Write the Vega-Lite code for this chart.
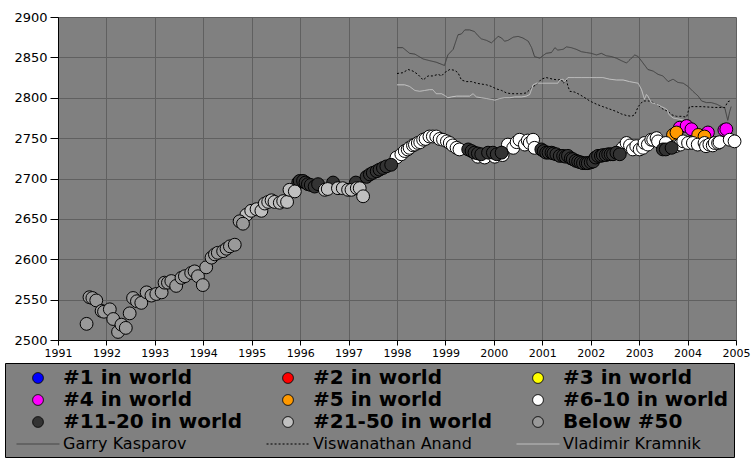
{
  "$schema": "https://vega.github.io/schema/vega-lite/v6.json",
  "width": 678,
  "height": 323,
  "autosize": {"type": "none"},
  "padding": {"left": 58, "top": 17, "right": 20, "bottom": 124},
  "background": "white",
  "config": {
    "view": {"fill": "#808080", "stroke": null},
    "axis": {"gridColor": "#606060", "gridWidth": 1, "domainColor": "#000000", "tickColor": "#000000", "labelColor": "#000000", "labelFont": "DejaVu Sans", "title": null},
    "legend": {
      "orient": "none", "legendX": -53, "legendY": 346,
      "columns": 3, "columnPadding": 22, "rowPadding": 2, "padding": 5, "gridAlign": "all",
      "titleOrient": "left", "titlePadding": 7, "titleFontSize": 1, "titleColor": "#808080",
      "fillColor": "#808080", "strokeColor": "#000000",
      "labelFont": "DejaVu Sans", "labelFontSize": 20, "labelFontWeight": "bold", "labelColor": "#000000", "labelLimit": 400,
      "symbolSize": 115, "symbolStrokeWidth": 1, "symbolOffset": 11, "labelOffset": 15
    }
  },
  "datasets": {
    "lines": [
      {"t": 1998.00, "elo": 2862, "cat": "Garry Kasparov"}, {"t": 1998.12, "elo": 2862, "cat": "Garry Kasparov"}, {"t": 1998.26, "elo": 2855, "cat": "Garry Kasparov"}, {"t": 1998.37, "elo": 2854, "cat": "Garry Kasparov"}, {"t": 1998.54, "elo": 2848, "cat": "Garry Kasparov"}, {"t": 1998.67, "elo": 2846, "cat": "Garry Kasparov"}, {"t": 1998.81, "elo": 2844, "cat": "Garry Kasparov"}, {"t": 1998.98, "elo": 2840, "cat": "Garry Kasparov"}, {"t": 1999.05, "elo": 2853, "cat": "Garry Kasparov"}, {"t": 1999.16, "elo": 2860, "cat": "Garry Kasparov"}, {"t": 1999.26, "elo": 2878, "cat": "Garry Kasparov"}, {"t": 1999.33, "elo": 2879, "cat": "Garry Kasparov"}, {"t": 1999.40, "elo": 2884, "cat": "Garry Kasparov"}, {"t": 1999.50, "elo": 2884, "cat": "Garry Kasparov"}, {"t": 1999.60, "elo": 2882, "cat": "Garry Kasparov"}, {"t": 1999.67, "elo": 2877, "cat": "Garry Kasparov"}, {"t": 1999.74, "elo": 2873, "cat": "Garry Kasparov"}, {"t": 1999.85, "elo": 2871, "cat": "Garry Kasparov"}, {"t": 1999.95, "elo": 2868, "cat": "Garry Kasparov"}, {"t": 2000.02, "elo": 2872, "cat": "Garry Kasparov"}, {"t": 2000.09, "elo": 2876, "cat": "Garry Kasparov"}, {"t": 2000.16, "elo": 2874, "cat": "Garry Kasparov"}, {"t": 2000.22, "elo": 2870, "cat": "Garry Kasparov"}, {"t": 2000.29, "elo": 2871, "cat": "Garry Kasparov"}, {"t": 2000.40, "elo": 2875, "cat": "Garry Kasparov"}, {"t": 2000.50, "elo": 2876, "cat": "Garry Kasparov"}, {"t": 2000.60, "elo": 2874, "cat": "Garry Kasparov"}, {"t": 2000.71, "elo": 2870, "cat": "Garry Kasparov"}, {"t": 2000.78, "elo": 2862, "cat": "Garry Kasparov"}, {"t": 2000.84, "elo": 2851, "cat": "Garry Kasparov"}, {"t": 2000.95, "elo": 2849, "cat": "Garry Kasparov"}, {"t": 2001.01, "elo": 2852, "cat": "Garry Kasparov"}, {"t": 2001.08, "elo": 2855, "cat": "Garry Kasparov"}, {"t": 2001.19, "elo": 2856, "cat": "Garry Kasparov"}, {"t": 2001.26, "elo": 2862, "cat": "Garry Kasparov"}, {"t": 2001.32, "elo": 2859, "cat": "Garry Kasparov"}, {"t": 2001.43, "elo": 2860, "cat": "Garry Kasparov"}, {"t": 2001.50, "elo": 2863, "cat": "Garry Kasparov"}, {"t": 2001.60, "elo": 2862, "cat": "Garry Kasparov"}, {"t": 2001.70, "elo": 2860, "cat": "Garry Kasparov"}, {"t": 2001.81, "elo": 2857, "cat": "Garry Kasparov"}, {"t": 2001.91, "elo": 2856, "cat": "Garry Kasparov"}, {"t": 2002.01, "elo": 2855, "cat": "Garry Kasparov"}, {"t": 2002.12, "elo": 2853, "cat": "Garry Kasparov"}, {"t": 2002.22, "elo": 2855, "cat": "Garry Kasparov"}, {"t": 2002.32, "elo": 2852, "cat": "Garry Kasparov"}, {"t": 2002.43, "elo": 2851, "cat": "Garry Kasparov"}, {"t": 2002.53, "elo": 2849, "cat": "Garry Kasparov"}, {"t": 2002.63, "elo": 2846, "cat": "Garry Kasparov"}, {"t": 2002.74, "elo": 2843, "cat": "Garry Kasparov"}, {"t": 2002.84, "elo": 2849, "cat": "Garry Kasparov"}, {"t": 2002.91, "elo": 2853, "cat": "Garry Kasparov"}, {"t": 2002.98, "elo": 2851, "cat": "Garry Kasparov"}, {"t": 2003.08, "elo": 2843, "cat": "Garry Kasparov"}, {"t": 2003.18, "elo": 2835, "cat": "Garry Kasparov"}, {"t": 2003.29, "elo": 2833, "cat": "Garry Kasparov"}, {"t": 2003.39, "elo": 2829, "cat": "Garry Kasparov"}, {"t": 2003.49, "elo": 2827, "cat": "Garry Kasparov"}, {"t": 2003.60, "elo": 2820, "cat": "Garry Kasparov"}, {"t": 2003.70, "elo": 2823, "cat": "Garry Kasparov"}, {"t": 2003.80, "elo": 2819, "cat": "Garry Kasparov"}, {"t": 2003.91, "elo": 2818, "cat": "Garry Kasparov"}, {"t": 2004.01, "elo": 2814, "cat": "Garry Kasparov"}, {"t": 2004.11, "elo": 2808, "cat": "Garry Kasparov"}, {"t": 2004.22, "elo": 2802, "cat": "Garry Kasparov"}, {"t": 2004.29, "elo": 2796, "cat": "Garry Kasparov"}, {"t": 2004.39, "elo": 2794, "cat": "Garry Kasparov"}, {"t": 2004.49, "elo": 2794, "cat": "Garry Kasparov"}, {"t": 2004.60, "elo": 2792, "cat": "Garry Kasparov"}, {"t": 2004.70, "elo": 2789, "cat": "Garry Kasparov"}, {"t": 2004.77, "elo": 2787, "cat": "Garry Kasparov"}, {"t": 2004.83, "elo": 2772, "cat": "Garry Kasparov"}, {"t": 2004.87, "elo": 2783, "cat": "Garry Kasparov"}, {"t": 2004.90, "elo": 2789, "cat": "Garry Kasparov"},
      {"t": 1998.00, "elo": 2830, "cat": "Viswanathan Anand"}, {"t": 1998.12, "elo": 2831, "cat": "Viswanathan Anand"}, {"t": 1998.23, "elo": 2835, "cat": "Viswanathan Anand"}, {"t": 1998.33, "elo": 2833, "cat": "Viswanathan Anand"}, {"t": 1998.43, "elo": 2829, "cat": "Viswanathan Anand"}, {"t": 1998.54, "elo": 2822, "cat": "Viswanathan Anand"}, {"t": 1998.64, "elo": 2827, "cat": "Viswanathan Anand"}, {"t": 1998.74, "elo": 2827, "cat": "Viswanathan Anand"}, {"t": 1998.85, "elo": 2829, "cat": "Viswanathan Anand"}, {"t": 1998.92, "elo": 2827, "cat": "Viswanathan Anand"}, {"t": 1998.98, "elo": 2831, "cat": "Viswanathan Anand"}, {"t": 1999.09, "elo": 2835, "cat": "Viswanathan Anand"}, {"t": 1999.19, "elo": 2834, "cat": "Viswanathan Anand"}, {"t": 1999.26, "elo": 2831, "cat": "Viswanathan Anand"}, {"t": 1999.33, "elo": 2822, "cat": "Viswanathan Anand"}, {"t": 1999.43, "elo": 2820, "cat": "Viswanathan Anand"}, {"t": 1999.54, "elo": 2820, "cat": "Viswanathan Anand"}, {"t": 1999.64, "elo": 2818, "cat": "Viswanathan Anand"}, {"t": 1999.74, "elo": 2817, "cat": "Viswanathan Anand"}, {"t": 1999.85, "elo": 2816, "cat": "Viswanathan Anand"}, {"t": 1999.95, "elo": 2814, "cat": "Viswanathan Anand"}, {"t": 2000.05, "elo": 2811, "cat": "Viswanathan Anand"}, {"t": 2000.16, "elo": 2809, "cat": "Viswanathan Anand"}, {"t": 2000.26, "elo": 2806, "cat": "Viswanathan Anand"}, {"t": 2000.36, "elo": 2805, "cat": "Viswanathan Anand"}, {"t": 2000.47, "elo": 2805, "cat": "Viswanathan Anand"}, {"t": 2000.57, "elo": 2805, "cat": "Viswanathan Anand"}, {"t": 2000.67, "elo": 2806, "cat": "Viswanathan Anand"}, {"t": 2000.74, "elo": 2810, "cat": "Viswanathan Anand"}, {"t": 2000.81, "elo": 2814, "cat": "Viswanathan Anand"}, {"t": 2000.88, "elo": 2816, "cat": "Viswanathan Anand"}, {"t": 2000.98, "elo": 2823, "cat": "Viswanathan Anand"}, {"t": 2001.08, "elo": 2825, "cat": "Viswanathan Anand"}, {"t": 2001.22, "elo": 2823, "cat": "Viswanathan Anand"}, {"t": 2001.32, "elo": 2822, "cat": "Viswanathan Anand"}, {"t": 2001.39, "elo": 2823, "cat": "Viswanathan Anand"}, {"t": 2001.43, "elo": 2818, "cat": "Viswanathan Anand"}, {"t": 2001.50, "elo": 2822, "cat": "Viswanathan Anand"}, {"t": 2001.53, "elo": 2814, "cat": "Viswanathan Anand"}, {"t": 2001.57, "elo": 2808, "cat": "Viswanathan Anand"}, {"t": 2001.67, "elo": 2807, "cat": "Viswanathan Anand"}, {"t": 2001.77, "elo": 2804, "cat": "Viswanathan Anand"}, {"t": 2001.88, "elo": 2800, "cat": "Viswanathan Anand"}, {"t": 2001.98, "elo": 2796, "cat": "Viswanathan Anand"}, {"t": 2002.12, "elo": 2792, "cat": "Viswanathan Anand"}, {"t": 2002.25, "elo": 2789, "cat": "Viswanathan Anand"}, {"t": 2002.39, "elo": 2786, "cat": "Viswanathan Anand"}, {"t": 2002.53, "elo": 2783, "cat": "Viswanathan Anand"}, {"t": 2002.63, "elo": 2780, "cat": "Viswanathan Anand"}, {"t": 2002.74, "elo": 2778, "cat": "Viswanathan Anand"}, {"t": 2002.84, "elo": 2777, "cat": "Viswanathan Anand"}, {"t": 2002.91, "elo": 2779, "cat": "Viswanathan Anand"}, {"t": 2002.98, "elo": 2789, "cat": "Viswanathan Anand"}, {"t": 2003.08, "elo": 2796, "cat": "Viswanathan Anand"}, {"t": 2003.22, "elo": 2796, "cat": "Viswanathan Anand"}, {"t": 2003.36, "elo": 2792, "cat": "Viswanathan Anand"}, {"t": 2003.49, "elo": 2786, "cat": "Viswanathan Anand"}, {"t": 2003.60, "elo": 2783, "cat": "Viswanathan Anand"}, {"t": 2003.67, "elo": 2779, "cat": "Viswanathan Anand"}, {"t": 2003.77, "elo": 2777, "cat": "Viswanathan Anand"}, {"t": 2003.87, "elo": 2777, "cat": "Viswanathan Anand"}, {"t": 2003.98, "elo": 2776, "cat": "Viswanathan Anand"}, {"t": 2004.04, "elo": 2789, "cat": "Viswanathan Anand"}, {"t": 2004.30, "elo": 2789, "cat": "Viswanathan Anand"}, {"t": 2004.55, "elo": 2788, "cat": "Viswanathan Anand"}, {"t": 2004.77, "elo": 2788, "cat": "Viswanathan Anand"}, {"t": 2004.83, "elo": 2795, "cat": "Viswanathan Anand"}, {"t": 2004.87, "elo": 2796, "cat": "Viswanathan Anand"},
      {"t": 1998.00, "elo": 2816, "cat": "Vladimir Kramnik"}, {"t": 1998.16, "elo": 2816, "cat": "Vladimir Kramnik"}, {"t": 1998.26, "elo": 2814, "cat": "Vladimir Kramnik"}, {"t": 1998.37, "elo": 2809, "cat": "Vladimir Kramnik"}, {"t": 1998.47, "elo": 2808, "cat": "Vladimir Kramnik"}, {"t": 1998.57, "elo": 2809, "cat": "Vladimir Kramnik"}, {"t": 1998.67, "elo": 2810, "cat": "Vladimir Kramnik"}, {"t": 1998.74, "elo": 2810, "cat": "Vladimir Kramnik"}, {"t": 1998.81, "elo": 2805, "cat": "Vladimir Kramnik"}, {"t": 1998.92, "elo": 2805, "cat": "Vladimir Kramnik"}, {"t": 1998.98, "elo": 2803, "cat": "Vladimir Kramnik"}, {"t": 1999.05, "elo": 2800, "cat": "Vladimir Kramnik"}, {"t": 1999.12, "elo": 2801, "cat": "Vladimir Kramnik"}, {"t": 1999.23, "elo": 2802, "cat": "Vladimir Kramnik"}, {"t": 1999.36, "elo": 2802, "cat": "Vladimir Kramnik"}, {"t": 1999.50, "elo": 2802, "cat": "Vladimir Kramnik"}, {"t": 1999.57, "elo": 2805, "cat": "Vladimir Kramnik"}, {"t": 1999.64, "elo": 2801, "cat": "Vladimir Kramnik"}, {"t": 1999.74, "elo": 2800, "cat": "Vladimir Kramnik"}, {"t": 1999.85, "elo": 2799, "cat": "Vladimir Kramnik"}, {"t": 1999.95, "elo": 2798, "cat": "Vladimir Kramnik"}, {"t": 2000.02, "elo": 2797, "cat": "Vladimir Kramnik"}, {"t": 2000.12, "elo": 2799, "cat": "Vladimir Kramnik"}, {"t": 2000.22, "elo": 2800, "cat": "Vladimir Kramnik"}, {"t": 2000.33, "elo": 2800, "cat": "Vladimir Kramnik"}, {"t": 2000.43, "elo": 2801, "cat": "Vladimir Kramnik"}, {"t": 2000.57, "elo": 2801, "cat": "Vladimir Kramnik"}, {"t": 2000.67, "elo": 2802, "cat": "Vladimir Kramnik"}, {"t": 2000.74, "elo": 2804, "cat": "Vladimir Kramnik"}, {"t": 2000.81, "elo": 2816, "cat": "Vladimir Kramnik"}, {"t": 2000.88, "elo": 2818, "cat": "Vladimir Kramnik"}, {"t": 2000.98, "elo": 2818, "cat": "Vladimir Kramnik"}, {"t": 2001.08, "elo": 2818, "cat": "Vladimir Kramnik"}, {"t": 2001.22, "elo": 2818, "cat": "Vladimir Kramnik"}, {"t": 2001.32, "elo": 2818, "cat": "Vladimir Kramnik"}, {"t": 2001.36, "elo": 2822, "cat": "Vladimir Kramnik"}, {"t": 2001.43, "elo": 2823, "cat": "Vladimir Kramnik"}, {"t": 2001.46, "elo": 2820, "cat": "Vladimir Kramnik"}, {"t": 2001.53, "elo": 2825, "cat": "Vladimir Kramnik"}, {"t": 2001.67, "elo": 2825, "cat": "Vladimir Kramnik"}, {"t": 2001.81, "elo": 2825, "cat": "Vladimir Kramnik"}, {"t": 2001.98, "elo": 2825, "cat": "Vladimir Kramnik"}, {"t": 2002.12, "elo": 2825, "cat": "Vladimir Kramnik"}, {"t": 2002.25, "elo": 2825, "cat": "Vladimir Kramnik"}, {"t": 2002.39, "elo": 2823, "cat": "Vladimir Kramnik"}, {"t": 2002.53, "elo": 2822, "cat": "Vladimir Kramnik"}, {"t": 2002.67, "elo": 2822, "cat": "Vladimir Kramnik"}, {"t": 2002.80, "elo": 2820, "cat": "Vladimir Kramnik"}, {"t": 2002.98, "elo": 2818, "cat": "Vladimir Kramnik"}, {"t": 2003.05, "elo": 2810, "cat": "Vladimir Kramnik"}, {"t": 2003.11, "elo": 2798, "cat": "Vladimir Kramnik"}, {"t": 2003.15, "elo": 2804, "cat": "Vladimir Kramnik"}, {"t": 2003.18, "elo": 2802, "cat": "Vladimir Kramnik"}, {"t": 2003.25, "elo": 2794, "cat": "Vladimir Kramnik"}, {"t": 2003.36, "elo": 2792, "cat": "Vladimir Kramnik"}, {"t": 2003.46, "elo": 2789, "cat": "Vladimir Kramnik"}, {"t": 2003.53, "elo": 2787, "cat": "Vladimir Kramnik"}, {"t": 2003.58, "elo": 2785, "cat": "Vladimir Kramnik"}, {"t": 2003.62, "elo": 2779, "cat": "Vladimir Kramnik"}, {"t": 2003.70, "elo": 2775, "cat": "Vladimir Kramnik"}, {"t": 2003.87, "elo": 2773, "cat": "Vladimir Kramnik"}, {"t": 2003.98, "elo": 2771, "cat": "Vladimir Kramnik"}
    ],
    "points": [
      {"t": 2003.84, "elo": 2763, "cat": "#4 in world"}, {"t": 2003.98, "elo": 2765, "cat": "#4 in world"}, {"t": 2004.08, "elo": 2761, "cat": "#4 in world"}, {"t": 2004.42, "elo": 2757, "cat": "#4 in world"}, {"t": 2004.76, "elo": 2760, "cat": "#4 in world"}, {"t": 2004.80, "elo": 2761, "cat": "#4 in world"},
      {"t": 2003.70, "elo": 2754, "cat": "#5 in world"}, {"t": 2003.77, "elo": 2757, "cat": "#5 in world"}, {"t": 2004.22, "elo": 2754, "cat": "#5 in world"}, {"t": 2004.35, "elo": 2752, "cat": "#5 in world"},
      {"t": 1997.99, "elo": 2726, "cat": "#6-10 in world"}, {"t": 1998.09, "elo": 2730, "cat": "#6-10 in world"}, {"t": 1998.16, "elo": 2734, "cat": "#6-10 in world"}, {"t": 1998.22, "elo": 2736, "cat": "#6-10 in world"}, {"t": 1998.26, "elo": 2738, "cat": "#6-10 in world"}, {"t": 1998.33, "elo": 2741, "cat": "#6-10 in world"}, {"t": 1998.37, "elo": 2742, "cat": "#6-10 in world"}, {"t": 1998.43, "elo": 2744, "cat": "#6-10 in world"}, {"t": 1998.48, "elo": 2745, "cat": "#6-10 in world"}, {"t": 1998.54, "elo": 2748, "cat": "#6-10 in world"}, {"t": 1998.59, "elo": 2749, "cat": "#6-10 in world"}, {"t": 1998.67, "elo": 2752, "cat": "#6-10 in world"}, {"t": 1998.74, "elo": 2752, "cat": "#6-10 in world"}, {"t": 1998.81, "elo": 2752, "cat": "#6-10 in world"}, {"t": 1998.88, "elo": 2749, "cat": "#6-10 in world"}, {"t": 1998.95, "elo": 2748, "cat": "#6-10 in world"}, {"t": 1999.03, "elo": 2746, "cat": "#6-10 in world"}, {"t": 1999.09, "elo": 2744, "cat": "#6-10 in world"}, {"t": 1999.15, "elo": 2741, "cat": "#6-10 in world"}, {"t": 1999.23, "elo": 2738, "cat": "#6-10 in world"}, {"t": 1999.29, "elo": 2736, "cat": "#6-10 in world"},
      {"t": 1999.67, "elo": 2727, "cat": "#6-10 in world"}, {"t": 1999.81, "elo": 2726, "cat": "#6-10 in world"}, {"t": 2000.02, "elo": 2727, "cat": "#6-10 in world"}, {"t": 2000.18, "elo": 2729, "cat": "#6-10 in world"},
      {"t": 2000.29, "elo": 2742, "cat": "#6-10 in world"}, {"t": 2000.40, "elo": 2738, "cat": "#6-10 in world"}, {"t": 2000.47, "elo": 2745, "cat": "#6-10 in world"}, {"t": 2000.53, "elo": 2748, "cat": "#6-10 in world"}, {"t": 2000.64, "elo": 2742, "cat": "#6-10 in world"}, {"t": 2000.70, "elo": 2747, "cat": "#6-10 in world"}, {"t": 2000.74, "elo": 2744, "cat": "#6-10 in world"}, {"t": 2000.81, "elo": 2748, "cat": "#6-10 in world"}, {"t": 2000.84, "elo": 2738, "cat": "#6-10 in world"},
      {"t": 2002.66, "elo": 2738, "cat": "#6-10 in world"}, {"t": 2002.74, "elo": 2744, "cat": "#6-10 in world"}, {"t": 2002.81, "elo": 2741, "cat": "#6-10 in world"}, {"t": 2002.87, "elo": 2736, "cat": "#6-10 in world"}, {"t": 2002.94, "elo": 2740, "cat": "#6-10 in world"}, {"t": 2003.01, "elo": 2736, "cat": "#6-10 in world"}, {"t": 2003.08, "elo": 2738, "cat": "#6-10 in world"}, {"t": 2003.11, "elo": 2744, "cat": "#6-10 in world"}, {"t": 2003.18, "elo": 2742, "cat": "#6-10 in world"}, {"t": 2003.25, "elo": 2748, "cat": "#6-10 in world"}, {"t": 2003.29, "elo": 2748, "cat": "#6-10 in world"}, {"t": 2003.36, "elo": 2750, "cat": "#6-10 in world"}, {"t": 2003.39, "elo": 2746, "cat": "#6-10 in world"}, {"t": 2003.55, "elo": 2744, "cat": "#6-10 in world"}, {"t": 2003.75, "elo": 2740, "cat": "#6-10 in world"}, {"t": 2003.85, "elo": 2742, "cat": "#6-10 in world"},
      {"t": 2003.91, "elo": 2746, "cat": "#6-10 in world"}, {"t": 2004.01, "elo": 2744, "cat": "#6-10 in world"}, {"t": 2004.11, "elo": 2744, "cat": "#6-10 in world"}, {"t": 2004.21, "elo": 2742, "cat": "#6-10 in world"}, {"t": 2004.35, "elo": 2744, "cat": "#6-10 in world"}, {"t": 2004.38, "elo": 2740, "cat": "#6-10 in world"}, {"t": 2004.45, "elo": 2742, "cat": "#6-10 in world"}, {"t": 2004.52, "elo": 2741, "cat": "#6-10 in world"}, {"t": 2004.56, "elo": 2744, "cat": "#6-10 in world"}, {"t": 2004.63, "elo": 2744, "cat": "#6-10 in world"}, {"t": 2004.66, "elo": 2745, "cat": "#6-10 in world"}, {"t": 2004.87, "elo": 2748, "cat": "#6-10 in world"}, {"t": 2004.97, "elo": 2746, "cat": "#6-10 in world"},
      {"t": 1995.96, "elo": 2695, "cat": "#11-20 in world"}, {"t": 1995.99, "elo": 2697, "cat": "#11-20 in world"}, {"t": 1996.06, "elo": 2697, "cat": "#11-20 in world"}, {"t": 1996.11, "elo": 2695, "cat": "#11-20 in world"}, {"t": 1996.16, "elo": 2693, "cat": "#11-20 in world"}, {"t": 1996.22, "elo": 2692, "cat": "#11-20 in world"}, {"t": 1996.30, "elo": 2690, "cat": "#11-20 in world"}, {"t": 1996.37, "elo": 2693, "cat": "#11-20 in world"}, {"t": 1996.68, "elo": 2695, "cat": "#11-20 in world"}, {"t": 1997.15, "elo": 2695, "cat": "#11-20 in world"},
      {"t": 1997.37, "elo": 2702, "cat": "#11-20 in world"}, {"t": 1997.44, "elo": 2705, "cat": "#11-20 in world"}, {"t": 1997.50, "elo": 2707, "cat": "#11-20 in world"}, {"t": 1997.58, "elo": 2709, "cat": "#11-20 in world"}, {"t": 1997.64, "elo": 2711, "cat": "#11-20 in world"}, {"t": 1997.71, "elo": 2713, "cat": "#11-20 in world"}, {"t": 1997.78, "elo": 2715, "cat": "#11-20 in world"}, {"t": 1997.88, "elo": 2717, "cat": "#11-20 in world"},
      {"t": 1999.47, "elo": 2736, "cat": "#11-20 in world"}, {"t": 1999.54, "elo": 2734, "cat": "#11-20 in world"}, {"t": 1999.60, "elo": 2732, "cat": "#11-20 in world"}, {"t": 1999.67, "elo": 2731, "cat": "#11-20 in world"}, {"t": 1999.74, "elo": 2730, "cat": "#11-20 in world"}, {"t": 1999.88, "elo": 2732, "cat": "#11-20 in world"}, {"t": 1999.98, "elo": 2732, "cat": "#11-20 in world"}, {"t": 2000.06, "elo": 2730, "cat": "#11-20 in world"}, {"t": 2000.16, "elo": 2732, "cat": "#11-20 in world"},
      {"t": 2000.98, "elo": 2736, "cat": "#11-20 in world"}, {"t": 2001.03, "elo": 2734, "cat": "#11-20 in world"}, {"t": 2001.08, "elo": 2732, "cat": "#11-20 in world"}, {"t": 2001.13, "elo": 2732, "cat": "#11-20 in world"}, {"t": 2001.19, "elo": 2732, "cat": "#11-20 in world"}, {"t": 2001.23, "elo": 2731, "cat": "#11-20 in world"}, {"t": 2001.29, "elo": 2730, "cat": "#11-20 in world"}, {"t": 2001.36, "elo": 2728, "cat": "#11-20 in world"}, {"t": 2001.43, "elo": 2728, "cat": "#11-20 in world"}, {"t": 2001.48, "elo": 2727, "cat": "#11-20 in world"}, {"t": 2001.53, "elo": 2728, "cat": "#11-20 in world"}, {"t": 2001.59, "elo": 2725, "cat": "#11-20 in world"}, {"t": 2001.63, "elo": 2724, "cat": "#11-20 in world"}, {"t": 2001.69, "elo": 2722, "cat": "#11-20 in world"}, {"t": 2001.74, "elo": 2721, "cat": "#11-20 in world"}, {"t": 2001.79, "elo": 2720, "cat": "#11-20 in world"}, {"t": 2001.84, "elo": 2719, "cat": "#11-20 in world"}, {"t": 2001.90, "elo": 2719, "cat": "#11-20 in world"}, {"t": 2001.94, "elo": 2719, "cat": "#11-20 in world"}, {"t": 2002.00, "elo": 2720, "cat": "#11-20 in world"}, {"t": 2002.05, "elo": 2721, "cat": "#11-20 in world"}, {"t": 2002.10, "elo": 2726, "cat": "#11-20 in world"}, {"t": 2002.15, "elo": 2728, "cat": "#11-20 in world"}, {"t": 2002.21, "elo": 2728, "cat": "#11-20 in world"}, {"t": 2002.25, "elo": 2729, "cat": "#11-20 in world"}, {"t": 2002.31, "elo": 2729, "cat": "#11-20 in world"}, {"t": 2002.36, "elo": 2730, "cat": "#11-20 in world"}, {"t": 2002.41, "elo": 2730, "cat": "#11-20 in world"}, {"t": 2002.46, "elo": 2730, "cat": "#11-20 in world"}, {"t": 2002.53, "elo": 2732, "cat": "#11-20 in world"}, {"t": 2002.60, "elo": 2730, "cat": "#11-20 in world"},
      {"t": 2003.49, "elo": 2736, "cat": "#11-20 in world"}, {"t": 2003.55, "elo": 2736, "cat": "#11-20 in world"}, {"t": 2003.67, "elo": 2738, "cat": "#11-20 in world"},
      {"t": 1994.89, "elo": 2655, "cat": "#21-50 in world"}, {"t": 1994.99, "elo": 2660, "cat": "#21-50 in world"}, {"t": 1995.10, "elo": 2662, "cat": "#21-50 in world"}, {"t": 1995.20, "elo": 2660, "cat": "#21-50 in world"}, {"t": 1995.27, "elo": 2669, "cat": "#21-50 in world"}, {"t": 1995.34, "elo": 2671, "cat": "#21-50 in world"}, {"t": 1995.41, "elo": 2673, "cat": "#21-50 in world"}, {"t": 1995.47, "elo": 2671, "cat": "#21-50 in world"}, {"t": 1995.58, "elo": 2670, "cat": "#21-50 in world"}, {"t": 1995.65, "elo": 2672, "cat": "#21-50 in world"}, {"t": 1995.73, "elo": 2671, "cat": "#21-50 in world"}, {"t": 1995.78, "elo": 2686, "cat": "#21-50 in world"}, {"t": 1995.89, "elo": 2684, "cat": "#21-50 in world"}, {"t": 1996.51, "elo": 2686, "cat": "#21-50 in world"}, {"t": 1996.57, "elo": 2687, "cat": "#21-50 in world"}, {"t": 1996.78, "elo": 2688, "cat": "#21-50 in world"}, {"t": 1996.88, "elo": 2688, "cat": "#21-50 in world"}, {"t": 1996.99, "elo": 2686, "cat": "#21-50 in world"}, {"t": 1997.06, "elo": 2686, "cat": "#21-50 in world"}, {"t": 1997.17, "elo": 2688, "cat": "#21-50 in world"}, {"t": 1997.23, "elo": 2688, "cat": "#21-50 in world"}, {"t": 1997.30, "elo": 2678, "cat": "#21-50 in world"},
      {"t": 1991.59, "elo": 2520, "cat": "Below #50"}, {"t": 1991.65, "elo": 2553, "cat": "Below #50"}, {"t": 1991.71, "elo": 2552, "cat": "Below #50"}, {"t": 1991.79, "elo": 2549, "cat": "Below #50"}, {"t": 1991.90, "elo": 2536, "cat": "Below #50"}, {"t": 1991.95, "elo": 2535, "cat": "Below #50"}, {"t": 1992.07, "elo": 2538, "cat": "Below #50"}, {"t": 1992.14, "elo": 2526, "cat": "Below #50"}, {"t": 1992.24, "elo": 2510, "cat": "Below #50"}, {"t": 1992.31, "elo": 2519, "cat": "Below #50"}, {"t": 1992.40, "elo": 2515, "cat": "Below #50"}, {"t": 1992.48, "elo": 2533, "cat": "Below #50"}, {"t": 1992.55, "elo": 2552, "cat": "Below #50"}, {"t": 1992.63, "elo": 2548, "cat": "Below #50"}, {"t": 1992.72, "elo": 2546, "cat": "Below #50"}, {"t": 1992.83, "elo": 2559, "cat": "Below #50"}, {"t": 1992.93, "elo": 2555, "cat": "Below #50"}, {"t": 1993.03, "elo": 2557, "cat": "Below #50"}, {"t": 1993.14, "elo": 2559, "cat": "Below #50"}, {"t": 1993.20, "elo": 2571, "cat": "Below #50"}, {"t": 1993.27, "elo": 2571, "cat": "Below #50"}, {"t": 1993.34, "elo": 2573, "cat": "Below #50"}, {"t": 1993.44, "elo": 2567, "cat": "Below #50"}, {"t": 1993.55, "elo": 2577, "cat": "Below #50"}, {"t": 1993.62, "elo": 2579, "cat": "Below #50"}, {"t": 1993.75, "elo": 2583, "cat": "Below #50"}, {"t": 1993.82, "elo": 2585, "cat": "Below #50"}, {"t": 1993.89, "elo": 2579, "cat": "Below #50"}, {"t": 1993.99, "elo": 2568, "cat": "Below #50"}, {"t": 1994.06, "elo": 2590, "cat": "Below #50"}, {"t": 1994.17, "elo": 2602, "cat": "Below #50"}, {"t": 1994.24, "elo": 2606, "cat": "Below #50"}, {"t": 1994.30, "elo": 2608, "cat": "Below #50"}, {"t": 1994.41, "elo": 2610, "cat": "Below #50"}, {"t": 1994.48, "elo": 2613, "cat": "Below #50"}, {"t": 1994.55, "elo": 2616, "cat": "Below #50"}, {"t": 1994.65, "elo": 2618, "cat": "Below #50"}, {"t": 1994.75, "elo": 2647, "cat": "Below #50"}, {"t": 1994.82, "elo": 2644, "cat": "Below #50"}
    ]
  },
  "encoding": {
    "x": {"field": "t", "type": "quantitative", "scale": {"domain": [1991, 2005], "nice": false, "zero": false},
      "axis": {"values": [1991, 1992, 1993, 1994, 1995, 1996, 1997, 1998, 1999, 2000, 2001, 2002, 2003, 2004, 2005], "format": "d", "labelFontSize": 11, "tickSize": 5, "labelPadding": 2, "labelFlush": false, "labelOverlap": false, "grid": true}},
    "y": {"field": "elo", "type": "quantitative", "scale": {"domain": [2500, 2900], "nice": false, "zero": false},
      "axis": {"values": [2500, 2550, 2600, 2650, 2700, 2750, 2800, 2850, 2900], "format": "d", "labelFontSize": 13, "tickSize": 8, "labelPadding": 3, "grid": true}}
  },
  "layer": [
    {
      "data": {"name": "lines"},
      "mark": {"type": "line", "strokeWidth": 1, "interpolate": "linear"},
      "encoding": {
        "stroke": {"field": "cat", "type": "nominal",
          "scale": {"domain": ["#1 in world", "#4 in world", "#11-20 in world", "Garry Kasparov", "#2 in world", "#5 in world", "#21-50 in world", "Viswanathan Anand", "#3 in world", "#6-10 in world", "Below #50", "Vladimir Kramnik"],
                    "range": ["#000000", "#000000", "#000000", "#404040", "#000000", "#000000", "#000000", "#000000", "#000000", "#000000", "#000000", "#C8C8C8"]},
          "legend": {"title": " ",
            "encode": {
              "labels": {"update": {
                "fontSize": {"signal": "indexof(['Garry Kasparov','Viswanathan Anand','Vladimir Kramnik'], datum.value) >= 0 ? 16 : 20"},
                "fontWeight": {"signal": "indexof(['Garry Kasparov','Viswanathan Anand','Vladimir Kramnik'], datum.value) >= 0 ? 'normal' : 'bold'"}
              }}
            }
          }},
        "strokeDash": {"field": "cat", "type": "nominal",
          "scale": {"domain": ["#1 in world", "#4 in world", "#11-20 in world", "Garry Kasparov", "#2 in world", "#5 in world", "#21-50 in world", "Viswanathan Anand", "#3 in world", "#6-10 in world", "Below #50", "Vladimir Kramnik"],
                    "range": [[1, 0], [1, 0], [1, 0], [1, 0], [1, 0], [1, 0], [1, 0], [2, 2], [1, 0], [1, 0], [1, 0], [1, 0]]},
          "legend": {"title": " "}}
      }
    },
    {
      "data": {"name": "points"},
      "mark": {"type": "point", "filled": true, "stroke": "#000000", "strokeWidth": 1, "size": 165, "opacity": 1},
      "encoding": {
        "color": {"field": "cat", "type": "nominal",
          "scale": {"domain": ["#1 in world", "#4 in world", "#11-20 in world", "Garry Kasparov", "#2 in world", "#5 in world", "#21-50 in world", "Viswanathan Anand", "#3 in world", "#6-10 in world", "Below #50", "Vladimir Kramnik"],
                    "range": ["#0000FF", "#FF00FF", "#333333", "#404040", "#FF0000", "#FF9900", "#C0C0C0", "#000000", "#FFFF00", "#FFFFFF", "#999999", "#C8C8C8"]},
          "legend": {"title": " "}},
        "shape": {"field": "cat", "type": "nominal",
          "scale": {"domain": ["#1 in world", "#4 in world", "#11-20 in world", "Garry Kasparov", "#2 in world", "#5 in world", "#21-50 in world", "Viswanathan Anand", "#3 in world", "#6-10 in world", "Below #50", "Vladimir Kramnik"],
                    "range": ["circle", "circle", "circle", "M-4,0H4", "circle", "circle", "circle", "M-4,0H4", "circle", "circle", "circle", "M-4,0H4"]},
          "legend": {"title": " "}}
      }
    }
  ]
}
